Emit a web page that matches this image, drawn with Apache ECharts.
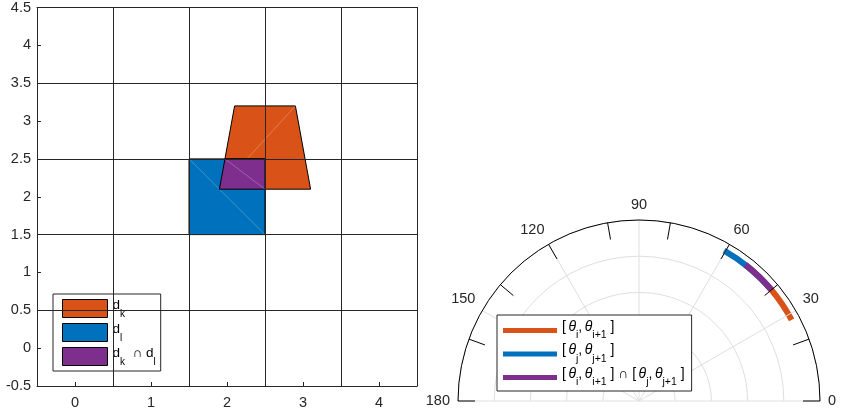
<!DOCTYPE html>
<html><head><meta charset="utf-8">
<script src="https://cdn.jsdelivr.net/npm/echarts@6/dist/echarts.min.js"></script>
<style>html,body{margin:0;background:#fff}#c{width:847px;height:411px}</style>
</head><body><div id="c"></div>
<script>
// ---- data ----
const xTickLabels = [0, 1, 2, 3, 4];
const yTickLabels = [-0.5, 0, 0.5, 1, 1.5, 2, 2.5, 3, 3.5, 4, 4.5];
// polygons (vertices)
const dkX = [1.9, 3.1, 2.9, 2.1];
const dkY = [2.1, 2.1, 3.2, 3.2];
const dlX = [1.5, 2.5, 2.5, 1.5];
const dlY = [1.5, 1.5, 2.5, 2.5];
const dklX = [1.9, 2.5, 2.5, 1.973];
const dklY = [2.1, 2.1, 2.5, 2.5];
// polar
const angleLabels = [0, 30, 60, 90, 120, 150, 180];
const binEdges = [0, 20, 40, 60, 80, 100, 120, 140, 160, 180];
const arcRadius = 0.955;
const arcI = [28, 52];      // [theta_i, theta_i+1]
const arcJ = [40, 60.5];    // [theta_j, theta_j+1]
const arcIJ = [40, 52];     // intersection

// ---- styles ----
const FONT = 'Liberation Sans, Arial, sans-serif';
const ORANGE = '#D95319', BLUE = '#0072BD', PURPLE = '#7E2F8E';
const AXC = '#262626';

function polyRender(xs, ys, seam) {
  return function (params, api) {
    if (params.dataIndex !== 0) return null;
    const p = xs.map((x, i) => api.coord([x, ys[i]]));
    const a = p[seam[0]], b = p[seam[1]];
    return {
      type: 'group',
      children: [
        { type: 'polygon', shape: { points: p }, style: { fill: api.visual('color'), stroke: '#000', lineWidth: 1 } },
        { type: 'line', shape: { x1: a[0], y1: a[1], x2: b[0], y2: b[1] }, style: { stroke: 'rgba(255,255,255,0.3)', lineWidth: 0.8 } }
      ]
    };
  };
}
function arcRender(params, api) {
  const r = api.value(0), a0 = api.value(1), a1 = api.value(2);
  const cs = params.coordSys;
  const cx = cs.cx, cy = cs.cy;
  const p0 = api.coord([r, a0]), p1 = api.coord([r, a1]);
  const rp = Math.hypot(p0[0] - cx, p0[1] - cy);
  const s0 = Math.atan2(p0[1] - cy, p0[0] - cx), s1 = Math.atan2(p1[1] - cy, p1[0] - cx);
  return {
    type: 'sector',
    shape: { cx: cx, cy: cy, r0: rp - 3, r: rp + 3, startAngle: Math.min(s0, s1), endAngle: Math.max(s0, s1), clockwise: true },
    style: { fill: api.visual('color') }
  };
}
const pts = (xs, ys) => xs.map((x, i) => [x, ys[i]]);

const mainD = { fontSize: 13.5, fontFamily: FONT, color: '#000', lineHeight: 16, verticalAlign: 'top' };
const subD = { fontSize: 10, fontFamily: FONT, color: '#000', lineHeight: 21, verticalAlign: 'bottom' };
const mainT = { fontSize: 14, fontFamily: FONT, color: '#000', lineHeight: 16, verticalAlign: 'top' };
const thT = { fontSize: 14, fontFamily: FONT, fontStyle: 'italic', color: '#000', lineHeight: 16, verticalAlign: 'top', padding: [0, 0, 0, 2.5] };
const subT = { fontSize: 10.5, fontFamily: FONT, color: '#000', lineHeight: 21, verticalAlign: 'bottom' };
const legendNamesL = {
  dk: '{m|d}{s|k}',
  dl: '{m|d}{s|l}',
  dkl: '{m|d}{s|k}{m|  ∩ d}{s|l}'
};
const ti = '{b|[}{th|θ}{s|i}{b|,}{th|θ}{s|i+1}{b| ]}';
const tj = '{b|[}{th|θ}{s|j}{b|,}{th|θ}{s|j+1}{b| ]}';
const legendNamesR = { ai: ti, aj: tj, aij: ti + '{b| ∩ }' + tj };

const chart = echarts.init(document.getElementById('c'));
chart.setOption({
  animation: false,
  backgroundColor: '#fff',
  grid: { left: 37, top: 7, width: 380, height: 379 },
  xAxis: [
    { type: 'value', gridIndex: 0, min: -0.5, max: 4.5, position: 'bottom',
      axisLine: { show: true, onZero: false, lineStyle: { color: AXC, width: 1 } },
      axisTick: { show: true, inside: true, length: 4, customValues: xTickLabels, lineStyle: { color: AXC } },
      axisLabel: { customValues: xTickLabels, color: AXC, fontSize: 14.5, fontFamily: FONT, margin: 9 },
      splitLine: { show: false } },
    { type: 'value', gridIndex: 0, min: -0.5, max: 4.5, interval: 1, position: 'top', z: 10,
      axisLine: { show: true, onZero: false, lineStyle: { color: AXC, width: 1 } },
      axisTick: { show: false }, axisLabel: { show: false },
      splitLine: { show: true, lineStyle: { color: AXC, width: 1 } } }
  ],
  yAxis: [
    { type: 'value', gridIndex: 0, min: -0.5, max: 4.5, position: 'left',
      axisLine: { show: true, onZero: false, lineStyle: { color: AXC, width: 1 } },
      axisTick: { show: true, inside: true, length: 4, customValues: yTickLabels, lineStyle: { color: AXC } },
      axisLabel: { customValues: yTickLabels, color: AXC, fontSize: 14.5, fontFamily: FONT, margin: 6 },
      splitLine: { show: false } },
    { type: 'value', gridIndex: 0, min: -0.5, max: 4.5, interval: 1, position: 'right', z: 10,
      axisLine: { show: true, onZero: false, lineStyle: { color: AXC, width: 1 } },
      axisTick: { show: false }, axisLabel: { show: false },
      splitLine: { show: true, lineStyle: { color: AXC, width: 1 } } }
  ],
  polar: [
    { center: [639, 401], radius: 181 },
    { center: [639, 401], radius: 181 }
  ],
  angleAxis: [
    { polarIndex: 0, type: 'value', min: 0, max: 180, interval: 30, startAngle: 0, endAngle: 180, clockwise: false, z: 3,
      axisLine: { show: true, lineStyle: { color: '#000', width: 1 } },
      axisTick: { show: false },
      axisLabel: { color: AXC, fontSize: 14.5, fontFamily: FONT, margin: 8 },
      splitLine: { show: true, lineStyle: { color: '#dfdfdf', width: 1 } } },
    { polarIndex: 1, type: 'value', min: 0, max: 180, interval: 20, startAngle: 0, endAngle: 180, clockwise: false, z: 4,
      axisLine: { show: false },
      axisTick: { show: true, inside: true, length: 17, lineStyle: { color: '#000', width: 1 } },
      axisLabel: { show: false },
      splitLine: { show: false } }
  ],
  radiusAxis: [
    { polarIndex: 0, type: 'value', min: 0, max: 1, interval: 0.2, z: 2,
      axisLine: { show: false }, axisTick: { show: false }, axisLabel: { show: false },
      splitLine: { show: true, lineStyle: { color: '#dfdfdf', width: 1 } } },
    { polarIndex: 1, type: 'value', min: 0, max: 1,
      axisLine: { show: false }, axisTick: { show: false }, axisLabel: { show: false },
      splitLine: { show: false } }
  ],
  legend: [
    { left: 53, top: 294, orient: 'vertical', selectedMode: false, height: 100,
      itemWidth: 45, itemHeight: 18, itemGap: 3, padding: [4, 5, 4, 9],
      borderColor: AXC, borderWidth: 1, backgroundColor: '#fff', icon: 'rect',
      itemStyle: { borderColor: '#000', borderWidth: 1 },
      data: ['dk', 'dl', 'dkl'],
      formatter: n => legendNamesL[n],
      textStyle: { color: '#000', fontFamily: FONT, fontSize: 13.5, rich: { m: mainD, s: subD } } },
    { left: 497, top: 315, orient: 'vertical', selectedMode: false, height: 100,
      itemWidth: 54, itemHeight: 5, itemGap: 2.5, padding: [5, 7, 3, 6],
      borderColor: AXC, borderWidth: 1, backgroundColor: '#fff', icon: 'rect',
      data: ['ai', 'aj', 'aij'],
      formatter: n => legendNamesR[n],
      textStyle: { color: '#000', fontFamily: FONT, fontSize: 14, rich: { b: mainT, th: thT, s: subT } } }
  ],
  series: [
    { type: 'custom', name: 'dk', xAxisIndex: 0, yAxisIndex: 0, itemStyle: { color: ORANGE },
      data: pts(dkX, dkY), renderItem: polyRender(dkX, dkY, [2, 0]) },
    { type: 'custom', name: 'dl', xAxisIndex: 0, yAxisIndex: 0, itemStyle: { color: BLUE },
      data: pts(dlX, dlY), renderItem: polyRender(dlX, dlY, [3, 1]) },
    { type: 'custom', name: 'dkl', xAxisIndex: 0, yAxisIndex: 0, itemStyle: { color: PURPLE },
      data: pts(dklX, dklY), renderItem: polyRender(dklX, dklY, [3, 1]) },
    { type: 'custom', name: 'ai', coordinateSystem: 'polar', polarIndex: 0, itemStyle: { color: ORANGE },
      data: [[arcRadius, arcI[0], arcI[1]]], renderItem: arcRender },
    { type: 'custom', name: 'aj', coordinateSystem: 'polar', polarIndex: 0, itemStyle: { color: BLUE },
      data: [[arcRadius, arcJ[0], arcJ[1]]], renderItem: arcRender },
    { type: 'custom', name: 'aij', coordinateSystem: 'polar', polarIndex: 0, itemStyle: { color: PURPLE },
      data: [[arcRadius, arcIJ[0], arcIJ[1]]], renderItem: arcRender }
  ]
});
</script></body></html>
